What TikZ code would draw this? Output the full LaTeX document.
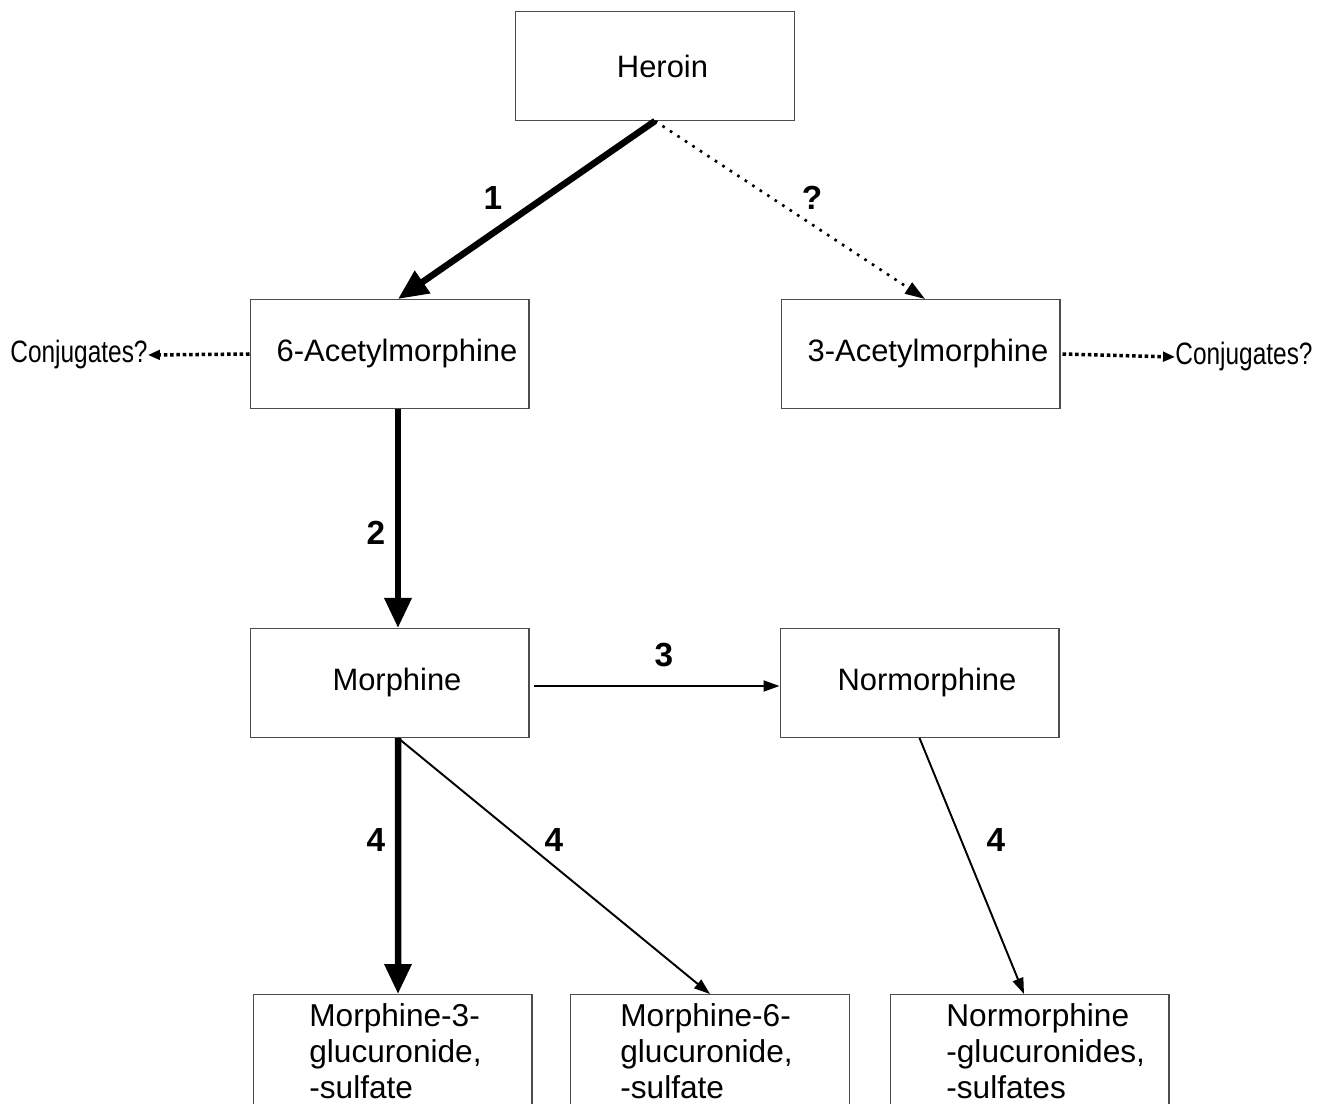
\documentclass[tikz,border=0pt]{standalone}
\usepackage{fontspec}
\setmainfont{Liberation Sans}
\usetikzlibrary{arrows.meta}

\begin{document}
\begin{tikzpicture}[x=0.02cm,y=-0.02cm,
    box/.style={draw=black!70,line width=0.6pt,minimum width=5.58cm,minimum height=2.18cm,inner sep=0pt,font=\fontsize{17.6}{19.4}\selectfont,execute at begin node={\hspace*{0.3cm}}},
    endbox/.style={draw=black!70,line width=0.6pt,minimum width=5.58cm,minimum height=2.6cm,anchor=north},
    endtext/.style={anchor=north west,inner sep=0pt,align=left,font=\fontsize{18}{20.5}\selectfont},
    num/.style={font=\fontsize{19}{22}\selectfont\bfseries},
    side/.style={inner sep=0pt,font=\fontsize{17.6}{20}\selectfont},
    major/.style={line width=3.7pt,-{Triangle[length=0.6cm,width=0.52cm]}},
    minor/.style={line width=1.1pt,-{Triangle[length=0.32cm,width=0.22cm]}},
    maybe/.style={line width=1.5pt,dash pattern=on 1.5pt off 3.6pt,-{Triangle[length=0.4cm,width=0.26cm]}},
    conj/.style={line width=2pt,dash pattern=on 2pt off 1.6pt,-{Triangle[length=0.24cm,width=0.19cm]}}]
    \useasboundingbox (0,0) rectangle (1324,1104);
    \clip (0,0) rectangle (1324,1104);
    % boxes
    \node[box] (heroin) at (655,66) {Heroin};
    \node[box] (acetyl6) at (389.5,354) {6-Acetylmorphine};
    \node[box] (acetyl3) at (920.5,354) {3-Acetylmorphine};
    \node[box] (morphine) at (389.5,683) {Morphine};
    \node[box] (normorphine) at (919.5,683) {Normorphine};
    \node[endbox] (m3g) at (392.5,994) {};
    \node[endbox] (m6g) at (710,994) {};
    \node[endbox] (nmg) at (1029.5,994) {};
    \node[endtext] (m3gtext) at (309,1003) {Morphine-3-\\glucuronide,\\-sulfate};
    \node[endtext] (m6gtext) at (620,1003) {Morphine-6-\\glucuronide,\\-sulfate};
    \node[endtext] (nmgtext) at (946,1003) {Normorphine\\-glucuronides,\\-sulfates};
    \node[side] (conjL) at (79,355) {\scalebox{0.79}[1]{Conjugates?}};
    \node[side] (conjR) at (1244,357) {\scalebox{0.79}[1]{Conjugates?}};
    % arrows
    \draw[major] (heroin.south) -- ([xshift=0.17cm]acetyl6.north);
    \draw[maybe] (heroin.south) -- ([xshift=0.09cm]acetyl3.north);
    \draw[major] ([xshift=0.17cm]acetyl6.south) -- ([xshift=0.17cm]morphine.north);
    \draw[minor] ([xshift=0.08cm,yshift=-0.06cm]morphine.east) -- ([yshift=-0.06cm]normorphine.west);
    \draw[major] ([xshift=0.17cm]morphine.south) -- ([xshift=0.11cm]m3g.north);
    \draw[minor] ([xshift=0.17cm]morphine.south) -- (m6g.north);
    \draw[minor] (normorphine.south) -- ([xshift=-0.11cm]nmg.north);
    \draw[conj] (acetyl6.west) -- (conjL.east);
    \draw[conj] ([xshift=0.04cm]acetyl3.east) -- (conjR.west);
    % step labels
    \node[num] (lab1) at (493,198) {1};
    \node[num] (labq) at (812,198) {?};
    \node[num] (lab2) at (376,533) {2};
    \node[num] (lab3) at (664,655) {3};
    \node[num] (lab4a) at (376,840) {4};
    \node[num] (lab4b) at (554,840) {4};
    \node[num] (lab4c) at (996,840) {4};
\end{tikzpicture}
\end{document}
